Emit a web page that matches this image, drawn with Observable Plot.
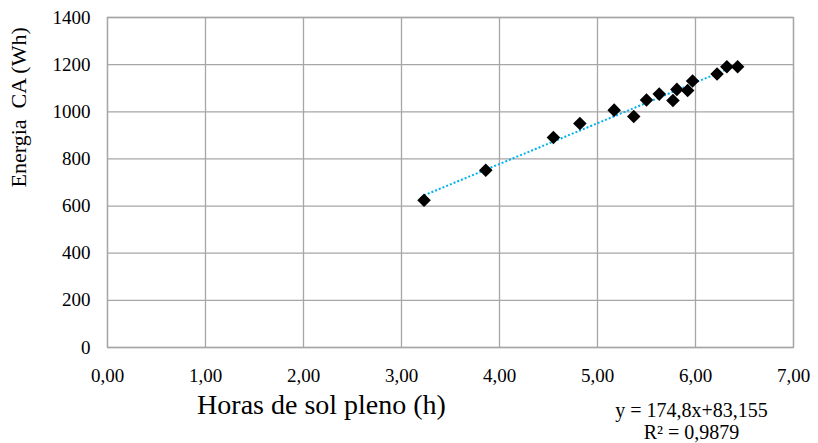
<!DOCTYPE html>
<html>
<head>
<meta charset="utf-8">
<script src="https://cdn.jsdelivr.net/npm/d3@7"></script>
<script src="https://cdn.jsdelivr.net/npm/@observablehq/plot@0.6"></script>
<style>
  html, body { margin: 0; padding: 0; background: #fff; }
  #chart svg { display: block; }
  #chart svg text { font-family: 'Liberation Serif', 'Times New Roman', serif !important; font-variant-numeric: normal !important; }
</style>
</head>
<body>
<div id="chart"></div>
<script>
// Horas de sol pleno (h)
const horas = [3.23, 3.86, 4.55, 4.82, 5.17, 5.37, 5.50, 5.63, 5.77, 5.81, 5.92, 5.97, 6.22, 6.32, 6.43];
// Energia CA (Wh)
const energia = [625, 752, 891, 950, 1007, 980, 1050, 1075, 1048, 1095, 1090, 1131, 1160, 1191, 1191];

const xTicks = [0, 1, 2, 3, 4, 5, 6, 7];
const yTicks = [0, 200, 400, 600, 800, 1000, 1200, 1400];

const xLabel = "Horas de sol pleno (h)";
const yLabel = "Energia  CA (Wh)";
const eqLabel = "y = 174,8x+83,155";
const r2Label = "R² = 0,9879";

const data = horas.map((h, i) => ({x: h, y: energia[i]}));
const gridColor = "#a6a6a6";
const font = "'Liberation Serif', 'Times New Roman', serif";
const fmtX = d => d.toFixed(2).replace(".", ",");

const chart = Plot.plot({
  width: 818,
  height: 443,
  marginLeft: 107,
  marginRight: 25,
  marginTop: 17,
  marginBottom: 96,
  style: {background: "#fff", color: "#000"},
  x: {domain: [0, 7], axis: null},
  y: {domain: [0, 1400], axis: null},
  marks: [
    Plot.gridX(xTicks, {stroke: gridColor, strokeOpacity: 1, strokeWidth: 1.3}),
    Plot.gridY(yTicks, {stroke: gridColor, strokeOpacity: 1, strokeWidth: 1.3}),
    Plot.frame({stroke: gridColor, strokeWidth: 1.3}),
    // tick labels placed through the scales
    Plot.text(xTicks, {x: d => d, frameAnchor: "bottom", text: fmtX, lineAnchor: "top",
      dy: 21, fontSize: 19, fontFamily: font, fill: "#000"}),
    Plot.text(yTicks, {y: d => d, frameAnchor: "left", text: d => String(d), textAnchor: "end",
      lineAnchor: "middle", dx: -17, fontSize: 19, fontFamily: font, fill: "#000"}),
    Plot.linearRegressionY(data, {x: "x", y: "y", ci: 0, stroke: "#00b0f0",
      strokeWidth: 2, strokeDasharray: "2 2", strokeLinecap: "butt"}),
    Plot.dot(data, {x: "x", y: "y", symbol: "diamond2", r: 6.1, fill: "#000", stroke: "none"}),
    Plot.text([xLabel], {frameAnchor: "bottom", text: d => d, fontSize: 28, fontFamily: font,
      lineAnchor: "middle", dx: -129, dy: 58, fill: "#000"}),
    Plot.text([yLabel], {frameAnchor: "left", text: d => d, fontSize: 22, fontFamily: font, rotate: -90,
      lineAnchor: "middle", dx: -89, dy: 5, fill: "#000"}),
    Plot.text([eqLabel], {frameAnchor: "bottom", text: d => d, fontSize: 20, fontFamily: font,
      lineAnchor: "middle", dx: 241, dy: 63, fill: "#000"}),
    Plot.text([r2Label], {frameAnchor: "bottom", text: d => d, fontSize: 20, fontFamily: font,
      lineAnchor: "middle", dx: 241, dy: 85, fill: "#000"})
  ]
});
document.getElementById("chart").appendChild(chart);
</script>
</body>
</html>
